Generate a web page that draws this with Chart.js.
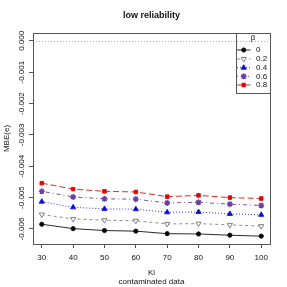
<!DOCTYPE html>
<html><head><meta charset="utf-8">
<style>html,body{margin:0;padding:0;background:#fff}canvas{display:block}</style>
<script src="https://cdn.jsdelivr.net/npm/chart.js@4.4.1/dist/chart.umd.min.js"></script>
</head><body>
<canvas id="c" width="287" height="287"></canvas>
<script>
const ki = [30, 40, 50, 60, 70, 80, 90, 100];
const betaLabels = ['0', '0.2', '0.4', '0.6', '0.8'];
const mbe0  = [-0.00585, -0.00599, -0.00605, -0.00607, -0.00615, -0.00616, -0.00620, -0.00623];
const mbe02 = [-0.00554, -0.00568, -0.00572, -0.00574, -0.00584, -0.00583, -0.00587, -0.00591];
const mbe04 = [-0.00513, -0.00531, -0.00536, -0.00537, -0.00547, -0.00546, -0.00552, -0.00555];
const mbe06 = [-0.00480, -0.00498, -0.00504, -0.00505, -0.00517, -0.00515, -0.00521, -0.00525];
const mbe08 = [-0.00454, -0.00473, -0.00480, -0.00482, -0.00497, -0.00493, -0.00500, -0.00503];
const yTicks = [0, -0.001, -0.002, -0.003, -0.004, -0.005, -0.006];
const yTickLabels = ['0.000', '-0.001', '-0.002', '-0.003', '-0.004', '-0.005', '-0.006'];
const xTicks = [30, 40, 50, 60, 70, 80, 90, 100];
const titleText = 'low reliability';
const xTitle = ['Ki', 'contaminated data'];
const yTitle = 'MBE(e)';
const legendTitle = 'β';

const FONT = "'Liberation Sans', Arial, Helvetica, sans-serif";
const series = [mbe0, mbe02, mbe04, mbe06, mbe08];
const styles = [
  {color: '#111111', dash: [], pointStyle: 'circle', radius: 2.1, fill: '#000000', rotation: 0, bw: 1},
  {color: '#808080', dash: [3, 3], pointStyle: 'triangle', radius: 3.0, fill: '#ffffff', rotation: 180, bw: 1},
  {color: '#2020e0', dash: [1, 2], pointStyle: 'triangle', radius: 3.0, fill: '#0000dd', rotation: 0, bw: 1},
  {color: '#6b3fa0', dash: [1, 3, 4, 3], pointStyle: 'star', radius: 3.0, fill: '#6b3fa0', rotation: 0, bw: 1.4},
  {color: '#e01010', dash: [6, 3], pointStyle: 'rect', radius: 2.5, fill: '#dd0000', rotation: 0, bw: 1}
];

const datasets = series.map((vals, i) => ({
  label: betaLabels[i],
  data: vals.map((v, j) => ({x: ki[j], y: v})),
  borderColor: styles[i].color,
  borderWidth: 0.9,
  borderDash: styles[i].dash,
  pointStyle: styles[i].pointStyle,
  pointRadius: styles[i].radius,
  pointRotation: styles[i].rotation,
  pointBackgroundColor: styles[i].fill,
  pointBorderColor: styles[i].color,
  pointBorderWidth: styles[i].bw,
  tension: 0,
  fill: false
}));

const deco = {
  id: 'deco',
  beforeDatasetsDraw(chart) {
    const {ctx, chartArea: a, scales: {y}} = chart;
    ctx.save();
    const y0 = Math.round(y.getPixelForValue(0)) + 0.5;
    ctx.strokeStyle = '#b0b0b0';
    ctx.lineWidth = 1;
    ctx.setLineDash([1, 2]);
    ctx.beginPath(); ctx.moveTo(a.left, y0); ctx.lineTo(a.right, y0); ctx.stroke();
    ctx.restore();
  },
  afterDraw(chart) {
    const {ctx, chartArea: a, scales: {x, y}} = chart;
    ctx.save();
    ctx.strokeStyle = '#555';
    ctx.lineWidth = 1;
    ctx.setLineDash([]);
    ctx.strokeRect(Math.round(a.left) + 0.5, Math.round(a.top) + 0.5, Math.round(a.right - a.left), Math.round(a.bottom - a.top));
    ctx.fillStyle = '#111';
    ctx.font = '8px ' + FONT;
    ctx.textAlign = 'center';
    ctx.textBaseline = 'middle';
    yTicks.forEach((v, i) => {
      const py = y.getPixelForValue(v);
      ctx.save();
      ctx.translate(22, py);
      ctx.rotate(-Math.PI / 2);
      ctx.fillText(yTickLabels[i], 0, 0);
      ctx.restore();
    });
    ctx.save();
    ctx.translate(7, (a.top + a.bottom) / 2);
    ctx.rotate(-Math.PI / 2);
    ctx.fillText(yTitle, 0, 0);
    ctx.restore();
    const cx = (a.left + a.right) / 2;
    ctx.fillText(xTitle[0], cx, 273);
    ctx.fillText(xTitle[1], cx, 282);
    ctx.font = 'bold 9px ' + FONT;
    ctx.fillText(titleText, cx, 16);
    const lx0 = 236, ly0 = Math.round(a.top), lx1 = Math.round(a.right), ly1 = 93;
    ctx.strokeStyle = '#555';
    ctx.strokeRect(lx0 + 0.5, ly0 + 0.5, lx1 - lx0, ly1 - ly0);
    ctx.font = '8px ' + FONT;
    ctx.fillStyle = '#111';
    ctx.fillText(legendTitle, 253, 37.5);
    const rowY = [50, 59, 67.7, 76.3, 85];
    styles.forEach((s, i) => {
      const ry = rowY[i];
      ctx.strokeStyle = s.color;
      ctx.lineWidth = 0.9;
      ctx.setLineDash(s.dash);
      ctx.beginPath(); ctx.moveTo(237, ry); ctx.lineTo(250.5, ry); ctx.stroke();
      ctx.setLineDash([]);
      ctx.fillStyle = s.fill;
      ctx.strokeStyle = s.color;
      ctx.lineWidth = s.bw;
      Chart.helpers.drawPoint(ctx, {pointStyle: s.pointStyle, rotation: s.rotation, radius: s.radius, borderWidth: s.bw}, 243.7, ry);
      ctx.fillStyle = '#111';
      ctx.textAlign = 'left';
      ctx.fillText(betaLabels[i], 256, ry);
    });
    ctx.restore();
  }
};

new Chart(document.getElementById('c'), {
  type: 'line',
  data: {datasets},
  options: {
    responsive: false,
    devicePixelRatio: 1,
    animation: false,
    layout: {padding: {top: 33, right: 17, left: 0, bottom: 0}},
    plugins: {legend: {display: false}, title: {display: false}, tooltip: {enabled: false}},
    scales: {
      x: {
        type: 'linear', min: 27.2, max: 102.8,
        afterBuildTicks: s => { s.ticks = xTicks.map(v => ({value: v})); },
        afterFit: s => { s.height = 43; },
        ticks: {font: {size: 8, family: FONT}, color: '#111', padding: 5, maxRotation: 0, autoSkip: false},
        grid: {drawOnChartArea: false, drawTicks: true, tickLength: 4, color: '#555'},
        border: {display: false}
      },
      y: {
        type: 'linear', min: -0.00648, max: 0.00025,
        afterBuildTicks: s => { s.ticks = yTicks.map(v => ({value: v})); },
        afterFit: s => { s.width = 33; },
        ticks: {font: {size: 8, family: FONT}, color: 'rgba(0,0,0,0)', padding: 2},
        grid: {drawOnChartArea: false, drawTicks: true, tickLength: 4, color: '#555'},
        border: {display: false}
      }
    }
  },
  plugins: [deco]
});
</script>
</body></html>
